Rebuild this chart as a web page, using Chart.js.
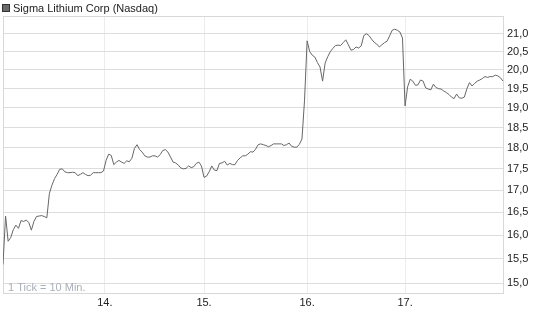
<!DOCTYPE html>
<html><head><meta charset="utf-8">
<script src="https://cdn.jsdelivr.net/npm/chart.js@4/dist/chart.umd.min.js"></script>
<style>html,body{margin:0;padding:0;background:#fff;}canvas{display:block;}</style>
</head><body>
<canvas id="c" width="545" height="327"></canvas>
<script>
const seriesName = 'Sigma Lithium Corp (Nasdaq)';
const tickNote = '1 Tick = 10 Min.';
const dayLabels = ['14.', '15.', '16.', '17.'];
const dayStarts = [39.5, 78, 118, 156];
const yTicks = [15.0, 15.5, 16.0, 16.5, 17.0, 17.5, 18.0, 18.5, 19.0, 19.5, 20.0, 20.5, 21.0];
const prices = [
 15.38,16.42,15.87,15.95,16.12,16.22,16.15,16.32,16.30,16.33,
 16.28,16.11,16.30,16.41,16.42,16.43,16.41,16.38,16.93,17.12,
 17.27,17.37,17.49,17.50,17.43,17.41,17.41,17.42,17.41,17.34,
 17.37,17.41,17.37,17.34,17.35,17.41,17.41,17.41,17.41,17.45,
 17.70,17.85,17.82,17.60,17.66,17.70,17.66,17.63,17.69,17.67,
 17.75,17.99,18.08,17.96,17.90,17.81,17.78,17.78,17.81,17.81,
 17.78,17.84,17.94,17.96,17.90,17.78,17.66,17.64,17.59,17.52,
 17.50,17.51,17.57,17.53,17.55,17.63,17.66,17.57,17.30,17.33,
 17.43,17.57,17.47,17.46,17.63,17.64,17.68,17.59,17.63,17.60,
 17.60,17.70,17.76,17.81,17.81,17.85,17.91,17.90,17.97,18.08,
 18.10,18.08,18.06,18.03,18.06,18.10,18.10,18.10,18.10,18.06,
 18.08,18.12,18.04,18.02,18.02,18.09,18.22,19.20,20.80,20.50,
 20.40,20.35,20.20,20.08,19.70,20.19,20.36,20.50,20.59,20.67,
 20.68,20.67,20.75,20.83,20.69,20.54,20.56,20.63,20.60,20.66,
 20.95,21.00,20.95,20.85,20.76,20.71,20.63,20.69,20.75,20.79,
 20.94,21.10,21.13,21.10,21.05,20.88,19.05,19.55,19.75,19.70,
 19.59,19.60,19.73,19.70,19.52,19.49,19.47,19.62,19.53,19.50,
 19.49,19.44,19.40,19.35,19.28,19.24,19.36,19.26,19.25,19.28,
 19.50,19.66,19.57,19.64,19.70,19.73,19.77,19.82,19.80,19.82,
 19.82,19.86,19.84,19.79,19.70
];

const FONT = 'Liberation Sans, Arial, sans-serif';

const framePlugin = {
  id: 'frame',
  beforeDatasetsDraw(chart) {
    const a = chart.chartArea, c = chart.ctx;
    c.save();
    c.strokeStyle = '#d8d8d8';
    c.lineWidth = 1;
    c.strokeRect(Math.round(a.left) + 0.5, Math.round(a.top) + 0.5,
                 Math.round(a.right - a.left), Math.round(a.bottom - a.top));
    c.restore();
  }
};

const textPlugin = {
  id: 'texts',
  afterDraw(chart) {
    const c = chart.ctx, a = chart.chartArea;
    c.save();
    c.fillStyle = '#6a6a6a';
    c.fillRect(2, 4, 8, 8);
    c.strokeStyle = '#333';
    c.lineWidth = 1;
    c.strokeRect(2.5, 4.5, 7, 7);
    c.fillStyle = '#222';
    c.font = '11px ' + FONT;
    c.textBaseline = 'alphabetic';
    c.textAlign = 'left';
    c.fillText(seriesName, 13, 12);
    c.fillStyle = '#a9b0ba';
    c.fillText(tickNote, a.left + 5, a.bottom - 2);
    c.restore();
  }
};

new Chart(document.getElementById('c').getContext('2d'), {
  type: 'line',
  data: {
    datasets: [{
      label: seriesName,
      data: prices.map((v, i) => ({x: i, y: v})),
      borderColor: '#666',
      borderWidth: 1,
      pointRadius: 0,
      fill: false,
      tension: 0
    }]
  },
  options: {
    responsive: false,
    animation: false,
    devicePixelRatio: 1,
    layout: {padding: {left: 3, top: 16, right: 0, bottom: 0}},
    plugins: {legend: {display: false}, tooltip: {enabled: false}},
    scales: {
      x: {
        type: 'linear',
        min: 0,
        max: prices.length - 1,
        afterBuildTicks: s => { s.ticks = dayStarts.map(v => ({value: v})); },
        afterFit: s => { s.height = 34; },
        grid: {color: '#ececec', drawTicks: false},
        border: {display: false},
        ticks: {
          padding: 3, color: '#222', maxRotation: 0, autoSkip: false,
          font: {family: FONT, size: 11},
          callback: (v, i) => dayLabels[i]
        }
      },
      y: {
        type: 'logarithmic',
        position: 'right',
        min: 14.84,
        max: 21.51,
        afterBuildTicks: s => { s.ticks = yTicks.map(v => ({value: v})); },
        afterFit: s => { s.width = 42; },
        grid: {color: '#dddddd', drawTicks: false},
        border: {display: false},
        ticks: {
          padding: 4, color: '#222', autoSkip: false,
          font: {family: FONT, size: 11},
          callback: v => Number(v).toFixed(1).replace('.', ',')
        }
      }
    }
  },
  plugins: [framePlugin, textPlugin]
});
</script>
</body></html>
